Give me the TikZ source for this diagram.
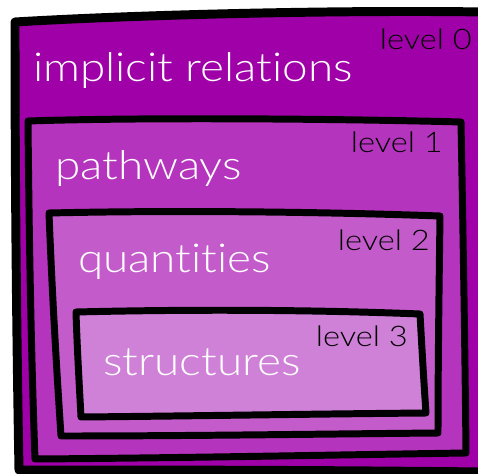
\documentclass[tikz,border=0pt]{standalone}
\usepackage{fontspec}
\setmainfont{Lato Light}[FakeStretch=1.15, Ligatures=NoCommon]
\definecolor{lv0}{RGB}{160,0,168}
\definecolor{lv1}{RGB}{181,52,189}
\definecolor{lv2}{RGB}{195,92,202}
\definecolor{lv3}{RGB}{207,128,215}
\tikzset{
  box/.style={draw=black, line width=#1, line join=round, line cap=round},
  big/.style={text=white, font=\fontsize{40}{42}\selectfont, anchor=base west, inner sep=0pt},
  lvl/.style={text=black, font=\fontsize{28.5}{31}\selectfont, anchor=base east, inner sep=0pt}
}
\begin{document}
\begin{tikzpicture}[x=1bp,y=-1bp]
\useasboundingbox (0,0) rectangle (478,474);
\fill[white] (0,0) rectangle (478,474);
% level 0
\draw[box=9pt, fill=lv0] (15,22) .. controls (150,14) and (350,10) .. (484,12)
  -- (484,472) .. controls (300,470) and (150,470) .. (19,470)
  .. controls (16,300) and (15,150) .. cycle;
% level 1
\draw[box=7pt, fill=lv1] (28,121) .. controls (150,117) and (350,119) .. (461,122)
  .. controls (463,230) and (465,350) .. (466,453)
  .. controls (330,455) and (180,458) .. (35,459)
  .. controls (31,350) and (29,230) .. cycle;
% level 2
\draw[box=7pt, fill=lv2] (49,213) .. controls (180,210) and (330,212) .. (440,216)
  .. controls (439,290) and (438,370) .. (438,433)
  .. controls (320,434) and (190,436) .. (61,436)
  .. controls (56,360) and (52,290) .. cycle;
% level 3
\draw[box=7pt, fill=lv3] (76,312) .. controls (200,309) and (320,310) .. (420,314)
  .. controls (422,350) and (424,385) .. (426,413)
  .. controls (310,414) and (190,416) .. (81,417)
  .. controls (79,380) and (77,345) .. cycle;
% labels
\node[big] (t0) at (33,82) {implicit relations};
\node[lvl] (l0) at (472,50) {level 0};
\node[big] (t1) at (55,180) {pathways};
\node[lvl] (l1) at (443,153) {level 1};
\node[big] (t2) at (78,272) {quantities};
\node[lvl] (l2) at (430,250) {level 2};
\node[big] (t3) at (103,375) {structures};
\node[lvl] (l3) at (408,346) {level 3};
\end{tikzpicture}
\end{document}
